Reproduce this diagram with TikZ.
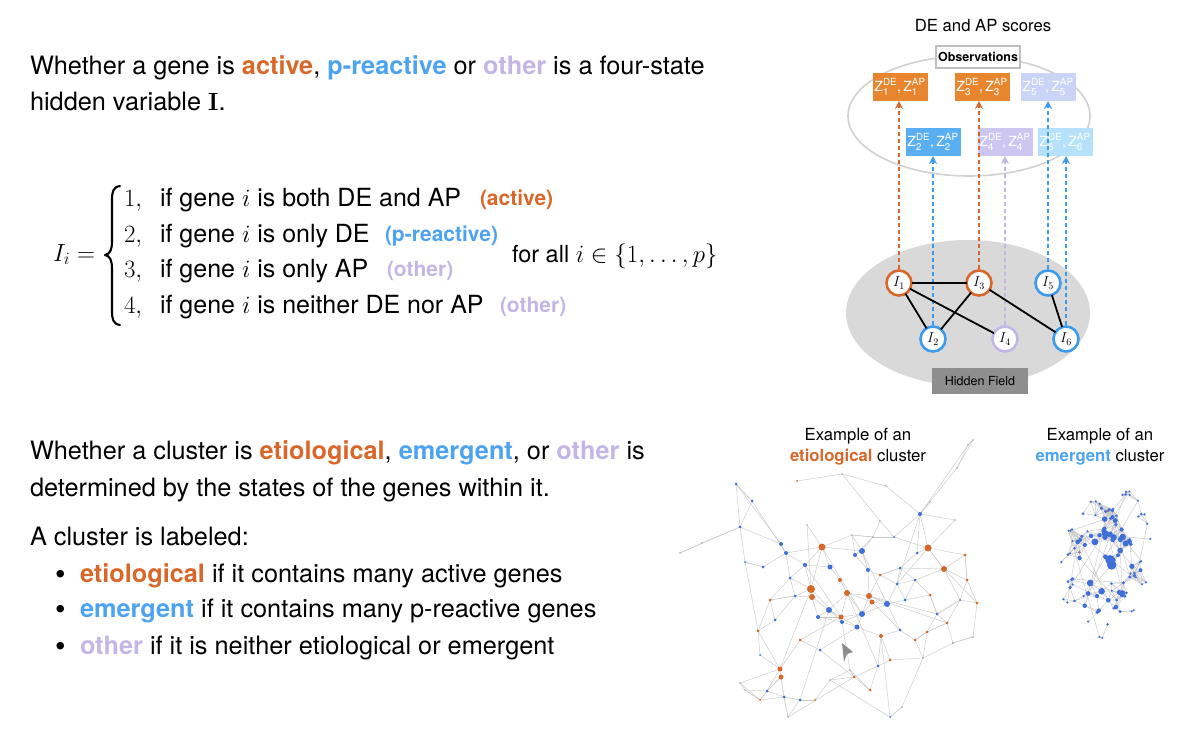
\documentclass[tikz,border=0pt]{standalone}
\usepackage[no-math]{fontspec}
\usepackage{amsmath}
\setmainfont{TeX Gyre Heros}
\usetikzlibrary{arrows.meta}
\definecolor{cor}{HTML}{D9672A}
\definecolor{cbl}{HTML}{4DA3F0}
\definecolor{clav}{HTML}{C2B6E6}
\definecolor{zor}{HTML}{E8862F}
\definecolor{zbl}{HTML}{5AAEF2}
\definecolor{zper}{HTML}{C9D4F7}
\definecolor{zlav}{HTML}{CDC6F0}
\definecolor{zcy}{HTML}{B5E1FA}
\definecolor{ringbl}{HTML}{3D9BEB}
\definecolor{colb}{HTML}{3F6FD8}
\definecolor{colo}{HTML}{D4692A}
\definecolor{colg}{HTML}{A8A8A8}
\definecolor{edgegray}{HTML}{C9C9C9}
\definecolor{hfgray}{HTML}{D9D9D9}
\definecolor{hfbox}{HTML}{8E8E8E}
\begin{document}
\begin{tikzpicture}[x=1pt,y=-1pt, every node/.style={inner sep=0pt, outer sep=0pt},
  maintext/.style={anchor=base west, font=\fontsize{25.3}{30}\selectfont},
  rowtext/.style={anchor=base west, font=\fontsize{25}{30}\selectfont},
  tagtext/.style={anchor=base west, font=\fontsize{21}{24}\selectfont\bfseries},
  bul/.style={anchor=base west, font=\fontsize{30}{30}\selectfont},
  zbox/.style={minimum width=55pt, minimum height=28pt, text=white, font=\fontsize{14}{16}\selectfont},
  inode/.style={circle, draw, line width=2.6pt, fill=white, minimum size=25pt, font=\fontsize{14}{16}\selectfont},
  obsarrow/.style={line width=2.2pt, dash pattern=on 4pt off 3pt, -{Stealth[length=8pt,width=8pt]}},
  hedge/.style={line width=1.8pt, black},
  netedge/.style={line width=0.45pt, edgegray},
  captext/.style={font=\fontsize{16.7}{21}\selectfont, align=center},
  bracestroke/.style={line width=2.1pt, line cap=round, line join=round}
]
\useasboundingbox (0,0) rectangle (1200,733);

% ---------- left text ----------
\node[maintext] (t1) at (30,75) {Whether a gene is \textbf{\color{cor}active}, \textbf{\color{cbl}p-reactive} or \textbf{\color{clav}other} is a four-state};
\node[maintext] (t2) at (30,111) {hidden variable $\mathbf{I}$.};

\node[anchor=base east, font=\fontsize{23}{28}\selectfont] (Ii) at (95,261) {$I_i =$};
\draw[bracestroke] (120,186) .. controls (113,187) and (112,192) .. (112,200) -- (112,241)
   .. controls (112,250) and (110,254) .. (105,255)
   .. controls (110,256) and (112,260) .. (112,269) -- (112,311)
   .. controls (112,319) and (113,324) .. (120,325);

\node[rowtext] (n1) at (124,206) {$1,$};
\node[rowtext] (r1) at (160,206) {if gene $i$ is both DE and AP};
\node[tagtext, text=cor] (g1) at (480,205) {(active)};
\node[rowtext] (n2) at (124,242) {$2,$};
\node[rowtext] (r2) at (160,242) {if gene $i$ is only DE};
\node[tagtext, text=cbl] (g2) at (385,241) {(p-reactive)};
\node[rowtext] (n3) at (124,277) {$3,$};
\node[rowtext] (r3) at (160,277) {if gene $i$ is only AP};
\node[tagtext, text=clav] (g3) at (387,276) {(other)};
\node[rowtext] (n4) at (124,313) {$4,$};
\node[rowtext] (r4) at (160,313) {if gene $i$ is neither DE nor AP};
\node[tagtext, text=clav] (g4) at (500,312) {(other)};
\node[anchor=base west, font=\fontsize{23.5}{28}\selectfont] (fa) at (512,262) {for all $i \in \{1, \ldots, p\}$};

\node[maintext] (c1) at (30,459) {Whether a cluster is \textbf{\color{cor}etiological}, \textbf{\color{cbl}emergent}, or \textbf{\color{clav}other} is};
\node[maintext] (c2) at (30,496) {determined by the states of the genes within it.};
\node[maintext] (c3) at (30,545) {A cluster is labeled:};
\node[bul] (d1) at (55,584) {\textbullet};
\node[maintext] (b1) at (80,582) {\textbf{\color{cor}etiological} if it contains many active genes};
\node[bul] (d2) at (55,619) {\textbullet};
\node[maintext] (b2) at (80,617) {\textbf{\color{cbl}emergent} if it contains many p-reactive genes};
\node[bul] (d3) at (55,656) {\textbullet};
\node[maintext] (b3) at (80,654) {\textbf{\color{clav}other} if it is neither etiological or emergent};

% ---------- top right diagram ----------
\node[font=\fontsize{16.7}{20}\selectfont] (scores) at (983,26) {DE and AP scores};
\draw[line width=1.6pt, black!18] (969,116) ellipse [x radius=121, y radius=60];
\node[draw=black!25, line width=1.8pt, fill=white, minimum width=84pt, minimum height=22pt, font=\fontsize{12.5}{14}\selectfont\bfseries] (obs) at (978,57) {Observations};

\fill[hfgray] (968,313) ellipse [x radius=122, y radius=73];
\node[fill=hfbox, minimum width=96pt, minimum height=26pt, font=\fontsize{12.5}{14}\selectfont] (hf) at (980,381) {Hidden Field};

\node[zbox, fill=zor]  (Z1) at (900,87)  {$\text{Z}^{\text{DE}}_{\text{1}}\text{,}\,\text{Z}^{\text{AP}}_{\text{1}}$};
\node[zbox, fill=zor]  (Z3) at (982,87)  {$\text{Z}^{\text{DE}}_{\text{3}}\text{,}\,\text{Z}^{\text{AP}}_{\text{3}}$};
\node[zbox, fill=zper] (Z5) at (1048,87) {$\text{Z}^{\text{DE}}_{\text{5}}\text{,}\,\text{Z}^{\text{AP}}_{\text{5}}$};
\node[zbox, fill=zbl]  (Z2) at (933,142) {$\text{Z}^{\text{DE}}_{\text{2}}\text{,}\,\text{Z}^{\text{AP}}_{\text{2}}$};
\node[zbox, fill=zlav] (Z4) at (1005,142) {$\text{Z}^{\text{DE}}_{\text{4}}\text{,}\,\text{Z}^{\text{AP}}_{\text{4}}$};
\node[zbox, fill=zcy]  (Z6) at (1065,142) {$\text{Z}^{\text{DE}}_{\text{6}}\text{,}\,\text{Z}^{\text{AP}}_{\text{6}}$};

\coordinate (p1) at (899,283);
\coordinate (p3) at (979,283);
\coordinate (p5) at (1048,283);
\coordinate (p2) at (933,339);
\coordinate (p4) at (1005,339);
\coordinate (p6) at (1066,339);

\draw[obsarrow, cor]  (p1) -- (p1 |- Z1.south);
\draw[obsarrow, cor]  (p3) -- (p3 |- Z3.south);
\draw[obsarrow, ringbl] (p5) -- (p5 |- Z5.south);
\draw[obsarrow, ringbl] (p2) -- (p2 |- Z2.south);
\draw[obsarrow, clav] (p4) -- (p4 |- Z4.south);
\draw[obsarrow, ringbl] (p6) -- (p6 |- Z6.south);

\node[inode, draw=cor]    (I1) at (p1) {$I_1$};
\node[inode, draw=cor]    (I3) at (p3) {$I_3$};
\node[inode, draw=ringbl] (I5) at (p5) {$I_5$};
\node[inode, draw=ringbl] (I2) at (p2) {$I_2$};
\node[inode, draw=clav]   (I4) at (p4) {$I_4$};
\node[inode, draw=ringbl] (I6) at (p6) {$I_6$};
\draw[hedge] (I1) -- (I3);
\draw[hedge] (I1) -- (I2);
\draw[hedge] (I1) -- (I4);
\draw[hedge] (I3) -- (I2);
\draw[hedge] (I3) -- (I6);
\draw[hedge] (I5) -- (I6);

% ---------- cluster captions ----------
\node[captext] (cap1) at (858,447) {Example of an\\\textbf{\color{cor}etiological} cluster};
\node[captext] (cap2) at (1100,447) {Example of an\\\textbf{\color{cbl}emergent} cluster};

% ---------- etiological cluster ----------
\def\etlist{920/514/b/2.0, 968/445/g/0.8, 957/468/g/0.8, 973/440/g/0.8, 930/502/g/0.8, 886/486/g/0.8, 842/474/g/0.8, 797/481/o/1.0, 736/484/b/1.5, 752/501/b/1.5,
740/527/b/1.5, 680/553/g/0.8, 702/543/g/0.8, 745/562/b/1.0, 822/547/o/3.5, 928/548/o/3.5, 811/589/o/4.0, 812/597/o/3.0, 847/593/o/3.0, 869/596/o/3.0,
944/569/o/3.0, 872/602/o/2.5, 841/617/o/2.5, 780/669/o/2.5, 781/677/o/2.5, 758/631/o/1.5, 881/636/o/2.0, 854/677/o/1.5, 829/610/b/3.0, 862/551/b/3.0,
855/555/b/2.0, 887/604/b/3.0, 862/614/b/3.0, 857/627/b/2.5, 830/567/b/2.5, 805/565/b/2.0, 786/553/b/2.0, 781/544/b/2.0, 818/617/b/2.0, 842/622/b/2.0,
897/584/b/1.5, 917/553/b/1.5, 763/567/b/1.5, 795/596/b/1.5, 784/697/b/1.5, 767/691/b/1.5, 740/683/g/0.8, 788/717/g/0.8, 890/717/b/1.0, 902/707/g/0.8,
977/603/o/1.5, 973/637/g/0.8, 953/643/g/1.2, 967/580/o/1.5, 947/623/o/1.5, 927/632/o/1.5, 923/658/g/0.8, 807/525/g/0.8, 852/535/g/0.8, 873/537/g/0.8,
880/521/g/0.8, 894/537/b/1.0, 900/568/b/1.5, 937/614/b/1.5, 878/666/b/1.5, 850/670/g/0.8, 820/650/b/1.5, 800/640/o/1.5, 775/620/b/1.5, 760/655/b/1.0,
760/700/o/1.0, 800/700/b/1.5, 830/680/g/0.8, 900/630/b/1.5, 915/640/o/1.5, 930/595/o/1.5, 960/600/b/1.0, 905/600/b/1.5, 890/660/o/1.5, 870/690/o/1.5,
815/700/o/1.0, 745/690/g/0.8, 770/600/o/1.5, 790/578/b/1.5, 955/520/g/0.8, 965/555/o/1.5, 868/570/b/2.0, 840/580/o/2.0, 880/575/o/1.5, 915/580/b/1.5}
\foreach \xx/\yy/\cc/\rr [count=\i] in \etlist {
  \coordinate (et\i) at (\xx,\yy);
  \expandafter\xdef\csname etx\i\endcsname{\xx}
  \expandafter\xdef\csname ety\i\endcsname{\yy}
}
\foreach \i in {1,...,90} {
  \foreach \j in {\i,...,90} {
    \pgfmathsetmacro\dd{veclen(\csname etx\i\endcsname-\csname etx\j\endcsname,\csname ety\i\endcsname-\csname ety\j\endcsname)}
    \ifdim\dd pt<27pt \ifdim\dd pt>0.5pt \draw[netedge] (et\i) -- (et\j); \fi\fi
  }
}
\foreach \a/\b in {1/2,1/3,3/4,2/4,1/5,1/6,6/7,7/8,9/10,10/11,11/12,11/13,9/11,11/38,10/37,14/26,26/24,1/16,1/42,15/17,17/24,15/30,16/21,21/51,51/52,58/17,27/49,28/48,15/37,14/11,43/14,24/47,25/46,25/45,45/48,49/50,57/50,52/53,53/57,54/86,86/16,16/85,85/1,1/62,61/7,60/59,59/15,62/16,20/64,41/1,44/69,83/26,67/28,68/24,73/49,72/45,80/66,79/57,65/27,40/66,34/67,23/68,55/56,56/75,74/32,76/64,77/64,88/19,89/63,90/21,87/30,83/44,63/21,84/83,46/71,71/82,81/72,66/28,15/33,17/40,30/32,19/65,29/72,36/23,20/55,16/41,9/38,21/77,22/74} {
  \draw[netedge] (et\a) -- (et\b);
}
\foreach \xx/\yy/\cc/\rr [count=\i] in \etlist {
  \fill[col\cc] (et\i) circle[radius=\rr pt];
}
\fill[black!45] (842,643) -- (853,652) -- (847,654) -- (844,662) -- cycle;

% ---------- emergent cluster ----------
\pgfmathsetseed{21}
\foreach \i in {1,...,115} {
  \pgfmathsetmacro\ang{360*rnd}
  \pgfmathsetmacro\rad{sqrt(rnd)}
  \pgfmathsetmacro\py{563+76*\rad*sin(\ang)}
  \pgfmathsetmacro\px{1106+46*\rad*cos(\ang)-0.12*(\py-563)}
  \pgfmathsetmacro\pr{max(1.0, 1.1+4.6*max(0,1-\rad)*rnd)}
  \expandafter\xdef\csname emx\i\endcsname{\px}
  \expandafter\xdef\csname emy\i\endcsname{\py}
  \expandafter\xdef\csname emr\i\endcsname{\pr}
  \coordinate (em\i) at (\px,\py);
}
\foreach \i in {1,...,115} {
  \foreach \j in {\i,...,115} {
    \pgfmathsetmacro\dd{veclen(\csname emx\i\endcsname-\csname emx\j\endcsname,\csname emy\i\endcsname-\csname emy\j\endcsname)}
    \ifdim\dd pt<15pt \ifdim\dd pt>0.5pt \draw[netedge] (em\i) -- (em\j); \fi\fi
  }
}
\foreach \i in {1,5,...,113} {
  \pgfmathtruncatemacro\k{\i+1}
  \draw[netedge] (em\i) -- (em\k);
}
\foreach \i in {1,...,115} {
  \fill[colb] (em\i) circle[radius=\csname emr\i\endcsname pt];
}
\fill[colo] (em7) circle[radius=1pt];
\fill[colo] (em23) circle[radius=1pt];
\end{tikzpicture}
\end{document}
